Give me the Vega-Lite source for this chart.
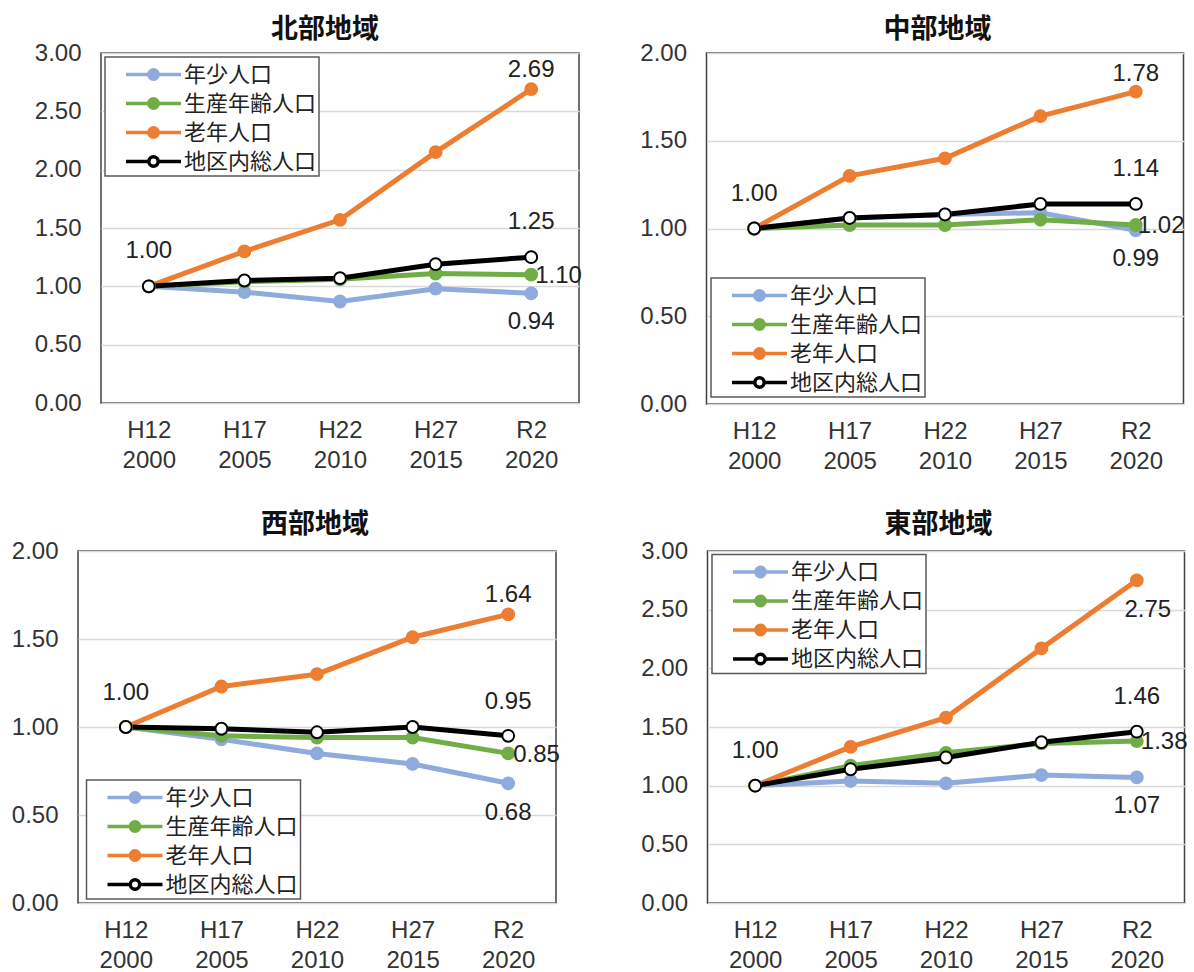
{
"$schema": "https://vega.github.io/schema/vega-lite/v6.json",
"background": "white",
"padding": {"left": 0, "top": 15, "right": 0, "bottom": 0},
"config": {
 "view": {"stroke": "#404040", "strokeWidth": 1.5},
 "axis": {"labelFont": "Liberation Sans", "labelFontSize": 24, "labelColor": "#333", "ticks": false, "domain": false, "title": null, "gridColor": "#d9d9d9", "gridWidth": 1.5},
 "axisX": {"grid": false, "labelAngle": 0, "labelLineHeight": 30, "labelPadding": 15, "labelBaseline": "top"},
 "axisY": {"labelPadding": 20, "format": ".2f"},
 "legend": {"symbolType": "M-2,0H-0.34M0.34,0H2M0.34,0C0.34,0.188,0.188,0.34,0,0.34C-0.188,0.34,-0.34,0.188,-0.34,0C-0.34,-0.188,-0.188,-0.34,0,-0.34C0.188,-0.34,0.34,-0.188,0.34,0Z", "symbolSize": 756, "symbolStrokeWidth": 3.5, "symbolOffset": 31, "padding": 2, "labelOffset": 15, "labelFont": "Noto Sans CJK JP", "labelFontSize": 22, "labelColor": "#222", "rowPadding": 1, "fillColor": "white", "strokeColor": "#595959", "strokeWidth": 1.5},
 "title": {"font": "Noto Sans CJK JP", "fontSize": 27, "fontWeight": "bold", "color": "#111", "anchor": "middle"},
 "text": {"font": "Liberation Sans", "fontSize": 24, "color": "#222", "baseline": "middle"}
},
"datasets": {"d": [
 {"region": "北部", "s": "年少人口", "year": "H12|2000", "v": 1.00},
 {"region": "北部", "s": "年少人口", "year": "H17|2005", "v": 0.95},
 {"region": "北部", "s": "年少人口", "year": "H22|2010", "v": 0.87},
 {"region": "北部", "s": "年少人口", "year": "H27|2015", "v": 0.98},
 {"region": "北部", "s": "年少人口", "year": "R2|2020", "v": 0.94},
 {"region": "北部", "s": "生産年齢人口", "year": "H12|2000", "v": 1.00},
 {"region": "北部", "s": "生産年齢人口", "year": "H17|2005", "v": 1.04},
 {"region": "北部", "s": "生産年齢人口", "year": "H22|2010", "v": 1.06},
 {"region": "北部", "s": "生産年齢人口", "year": "H27|2015", "v": 1.11},
 {"region": "北部", "s": "生産年齢人口", "year": "R2|2020", "v": 1.10},
 {"region": "北部", "s": "老年人口", "year": "H12|2000", "v": 1.00},
 {"region": "北部", "s": "老年人口", "year": "H17|2005", "v": 1.30},
 {"region": "北部", "s": "老年人口", "year": "H22|2010", "v": 1.57},
 {"region": "北部", "s": "老年人口", "year": "H27|2015", "v": 2.15},
 {"region": "北部", "s": "老年人口", "year": "R2|2020", "v": 2.69},
 {"region": "北部", "s": "地区内総人口", "year": "H12|2000", "v": 1.00},
 {"region": "北部", "s": "地区内総人口", "year": "H17|2005", "v": 1.05},
 {"region": "北部", "s": "地区内総人口", "year": "H22|2010", "v": 1.07},
 {"region": "北部", "s": "地区内総人口", "year": "H27|2015", "v": 1.19},
 {"region": "北部", "s": "地区内総人口", "year": "R2|2020", "v": 1.25},
 {"region": "中部", "s": "年少人口", "year": "H12|2000", "v": 1.00},
 {"region": "中部", "s": "年少人口", "year": "H17|2005", "v": 1.06},
 {"region": "中部", "s": "年少人口", "year": "H22|2010", "v": 1.08},
 {"region": "中部", "s": "年少人口", "year": "H27|2015", "v": 1.09},
 {"region": "中部", "s": "年少人口", "year": "R2|2020", "v": 0.99},
 {"region": "中部", "s": "生産年齢人口", "year": "H12|2000", "v": 1.00},
 {"region": "中部", "s": "生産年齢人口", "year": "H17|2005", "v": 1.02},
 {"region": "中部", "s": "生産年齢人口", "year": "H22|2010", "v": 1.02},
 {"region": "中部", "s": "生産年齢人口", "year": "H27|2015", "v": 1.05},
 {"region": "中部", "s": "生産年齢人口", "year": "R2|2020", "v": 1.02},
 {"region": "中部", "s": "老年人口", "year": "H12|2000", "v": 1.00},
 {"region": "中部", "s": "老年人口", "year": "H17|2005", "v": 1.30},
 {"region": "中部", "s": "老年人口", "year": "H22|2010", "v": 1.40},
 {"region": "中部", "s": "老年人口", "year": "H27|2015", "v": 1.64},
 {"region": "中部", "s": "老年人口", "year": "R2|2020", "v": 1.78},
 {"region": "中部", "s": "地区内総人口", "year": "H12|2000", "v": 1.00},
 {"region": "中部", "s": "地区内総人口", "year": "H17|2005", "v": 1.06},
 {"region": "中部", "s": "地区内総人口", "year": "H22|2010", "v": 1.08},
 {"region": "中部", "s": "地区内総人口", "year": "H27|2015", "v": 1.14},
 {"region": "中部", "s": "地区内総人口", "year": "R2|2020", "v": 1.14},
 {"region": "西部", "s": "年少人口", "year": "H12|2000", "v": 1.00},
 {"region": "西部", "s": "年少人口", "year": "H17|2005", "v": 0.93},
 {"region": "西部", "s": "年少人口", "year": "H22|2010", "v": 0.85},
 {"region": "西部", "s": "年少人口", "year": "H27|2015", "v": 0.79},
 {"region": "西部", "s": "年少人口", "year": "R2|2020", "v": 0.68},
 {"region": "西部", "s": "生産年齢人口", "year": "H12|2000", "v": 1.00},
 {"region": "西部", "s": "生産年齢人口", "year": "H17|2005", "v": 0.95},
 {"region": "西部", "s": "生産年齢人口", "year": "H22|2010", "v": 0.94},
 {"region": "西部", "s": "生産年齢人口", "year": "H27|2015", "v": 0.94},
 {"region": "西部", "s": "生産年齢人口", "year": "R2|2020", "v": 0.85},
 {"region": "西部", "s": "老年人口", "year": "H12|2000", "v": 1.00},
 {"region": "西部", "s": "老年人口", "year": "H17|2005", "v": 1.23},
 {"region": "西部", "s": "老年人口", "year": "H22|2010", "v": 1.30},
 {"region": "西部", "s": "老年人口", "year": "H27|2015", "v": 1.51},
 {"region": "西部", "s": "老年人口", "year": "R2|2020", "v": 1.64},
 {"region": "西部", "s": "地区内総人口", "year": "H12|2000", "v": 1.00},
 {"region": "西部", "s": "地区内総人口", "year": "H17|2005", "v": 0.99},
 {"region": "西部", "s": "地区内総人口", "year": "H22|2010", "v": 0.97},
 {"region": "西部", "s": "地区内総人口", "year": "H27|2015", "v": 1.00},
 {"region": "西部", "s": "地区内総人口", "year": "R2|2020", "v": 0.95},
 {"region": "東部", "s": "年少人口", "year": "H12|2000", "v": 1.00},
 {"region": "東部", "s": "年少人口", "year": "H17|2005", "v": 1.04},
 {"region": "東部", "s": "年少人口", "year": "H22|2010", "v": 1.02},
 {"region": "東部", "s": "年少人口", "year": "H27|2015", "v": 1.09},
 {"region": "東部", "s": "年少人口", "year": "R2|2020", "v": 1.07},
 {"region": "東部", "s": "生産年齢人口", "year": "H12|2000", "v": 1.00},
 {"region": "東部", "s": "生産年齢人口", "year": "H17|2005", "v": 1.17},
 {"region": "東部", "s": "生産年齢人口", "year": "H22|2010", "v": 1.28},
 {"region": "東部", "s": "生産年齢人口", "year": "H27|2015", "v": 1.36},
 {"region": "東部", "s": "生産年齢人口", "year": "R2|2020", "v": 1.38},
 {"region": "東部", "s": "老年人口", "year": "H12|2000", "v": 1.00},
 {"region": "東部", "s": "老年人口", "year": "H17|2005", "v": 1.33},
 {"region": "東部", "s": "老年人口", "year": "H22|2010", "v": 1.58},
 {"region": "東部", "s": "老年人口", "year": "H27|2015", "v": 2.17},
 {"region": "東部", "s": "老年人口", "year": "R2|2020", "v": 2.75},
 {"region": "東部", "s": "地区内総人口", "year": "H12|2000", "v": 1.00},
 {"region": "東部", "s": "地区内総人口", "year": "H17|2005", "v": 1.14},
 {"region": "東部", "s": "地区内総人口", "year": "H22|2010", "v": 1.24},
 {"region": "東部", "s": "地区内総人口", "year": "H27|2015", "v": 1.37},
 {"region": "東部", "s": "地区内総人口", "year": "R2|2020", "v": 1.46}
]},
"spacing": 36,
"resolve": {"scale": {"stroke": "independent", "fill": "independent", "x": "independent", "y": "independent"}, "legend": {"stroke": "independent", "fill": "independent"}},
"vconcat": [
 {"spacing": 0,
  "bounds": "flush",
  "resolve": {"scale": {"stroke": "independent", "fill": "independent", "x": "independent", "y": "independent"}, "legend": {"stroke": "independent", "fill": "independent"}},
  "hconcat": [
  {"width": 23, "height": 1, "view": {"stroke": null}, "data": {"values": []}, "mark": "point", "encoding": {}},
  {"spacing": 52.5,
   "resolve": {"scale": {"stroke": "independent", "fill": "independent", "x": "independent", "y": "independent"}, "legend": {"stroke": "independent", "fill": "independent"}},
   "hconcat": [
   {"title": {"text": "北部地域", "dx": -15, "offset": -3},
    "width": 478, "height": 350,
    "data": {"name": "d"},
    "transform": [{"filter": "datum.region === '北部'"}],
    "encoding": {
     "x": {"field": "year", "type": "nominal", "sort": null, "axis": {"labelExpr": "split(datum.label, '|')"}},
     "y": {"field": "v", "type": "quantitative", "scale": {"domain": [0, 3], "nice": false}, "axis": {"values": [0, 0.5, 1, 1.5, 2, 2.5, 3]}}
    },
    "layer": [
     {"mark": {"type": "line", "strokeWidth": 5}, "encoding": {"stroke": {"field": "s", "type": "nominal", "sort": null, "scale": {"domain": ["年少人口", "生産年齢人口", "老年人口", "地区内総人口"], "range": ["#8FAADC", "#70AD47", "#ED7D31", "#000000"]}, "legend": {"title": null, "orient": "none", "legendX": 4, "legendY": 4}}}},
     {"mark": {"type": "point", "shape": "circle", "filled": true, "size": 140, "strokeWidth": 2, "opacity": 1}, "encoding": {
       "fill": {"field": "s", "type": "nominal", "sort": null, "scale": {"domain": ["年少人口", "生産年齢人口", "老年人口", "地区内総人口"], "range": ["#8FAADC", "#70AD47", "#ED7D31", "#FFFFFF"]}, "legend": {"title": null, "orient": "none", "legendX": 4, "legendY": 4}},
       "stroke": {"field": "s", "type": "nominal", "sort": null, "scale": {"domain": ["年少人口", "生産年齢人口", "老年人口", "地区内総人口"], "range": ["#8FAADC", "#70AD47", "#ED7D31", "#000000"]}, "legend": {"title": null, "orient": "none", "legendX": 4, "legendY": 4}}}},
     {"transform": [{"filter": "datum.s === '地区内総人口' && (datum.year === 'H12|2000' || datum.year === 'R2|2020')"}], "mark": {"type": "text", "dy": -35}, "encoding": {"text": {"field": "v", "type": "quantitative", "format": ".2f"}}},
     {"transform": [{"filter": "datum.s === '老年人口' && datum.year === 'R2|2020'"}], "mark": {"type": "text", "dy": -19}, "encoding": {"text": {"field": "v", "type": "quantitative", "format": ".2f"}}},
     {"transform": [{"filter": "datum.s === '生産年齢人口' && datum.year === 'R2|2020'"}], "mark": {"type": "text", "align": "left", "dx": 4, "dy": 1}, "encoding": {"text": {"field": "v", "type": "quantitative", "format": ".2f"}}},
     {"transform": [{"filter": "datum.s === '年少人口' && datum.year === 'R2|2020'"}], "mark": {"type": "text", "dy": 29}, "encoding": {"text": {"field": "v", "type": "quantitative", "format": ".2f"}}}
    ]},
   {"title": {"text": "中部地域", "dx": -7.5, "offset": -3},
    "width": 477, "height": 351,
    "data": {"name": "d"},
    "transform": [{"filter": "datum.region === '中部'"}],
    "encoding": {
     "x": {"field": "year", "type": "nominal", "sort": null, "axis": {"labelExpr": "split(datum.label, '|')"}},
     "y": {"field": "v", "type": "quantitative", "scale": {"domain": [0, 2], "nice": false}, "axis": {"values": [0, 0.5, 1, 1.5, 2], "minExtent": 70, "maxExtent": 70}}
    },
    "layer": [
     {"mark": {"type": "line", "strokeWidth": 5}, "encoding": {"stroke": {"field": "s", "type": "nominal", "sort": null, "scale": {"domain": ["年少人口", "生産年齢人口", "老年人口", "地区内総人口"], "range": ["#8FAADC", "#70AD47", "#ED7D31", "#000000"]}, "legend": {"title": null, "orient": "none", "legendX": 4.5, "legendY": 225}}}},
     {"mark": {"type": "point", "shape": "circle", "filled": true, "size": 140, "strokeWidth": 2, "opacity": 1}, "encoding": {
       "fill": {"field": "s", "type": "nominal", "sort": null, "scale": {"domain": ["年少人口", "生産年齢人口", "老年人口", "地区内総人口"], "range": ["#8FAADC", "#70AD47", "#ED7D31", "#FFFFFF"]}, "legend": {"title": null, "orient": "none", "legendX": 4.5, "legendY": 225}},
       "stroke": {"field": "s", "type": "nominal", "sort": null, "scale": {"domain": ["年少人口", "生産年齢人口", "老年人口", "地区内総人口"], "range": ["#8FAADC", "#70AD47", "#ED7D31", "#000000"]}, "legend": {"title": null, "orient": "none", "legendX": 4.5, "legendY": 225}}}},
     {"transform": [{"filter": "datum.s === '地区内総人口' && (datum.year === 'H12|2000' || datum.year === 'R2|2020')"}], "mark": {"type": "text", "dy": -35}, "encoding": {"text": {"field": "v", "type": "quantitative", "format": ".2f"}}},
     {"transform": [{"filter": "datum.s === '老年人口' && datum.year === 'R2|2020'"}], "mark": {"type": "text", "dy": -18}, "encoding": {"text": {"field": "v", "type": "quantitative", "format": ".2f"}}},
     {"transform": [{"filter": "datum.s === '生産年齢人口' && datum.year === 'R2|2020'"}], "mark": {"type": "text", "align": "left", "dx": 2, "dy": 1}, "encoding": {"text": {"field": "v", "type": "quantitative", "format": ".2f"}}},
     {"transform": [{"filter": "datum.s === '年少人口' && datum.year === 'R2|2020'"}], "mark": {"type": "text", "dy": 29}, "encoding": {"text": {"field": "v", "type": "quantitative", "format": ".2f"}}}
    ]}
  ]}
 ]},
 {"spacing": 75.5,
  "resolve": {"scale": {"stroke": "independent", "fill": "independent", "x": "independent", "y": "independent"}, "legend": {"stroke": "independent", "fill": "independent"}},
  "hconcat": [
  {"title": {"text": "西部地域", "dx": -2, "offset": 0},
   "width": 478, "height": 352,
   "data": {"name": "d"},
   "transform": [{"filter": "datum.region === '西部'"}],
   "encoding": {
    "x": {"field": "year", "type": "nominal", "sort": null, "axis": {"labelExpr": "split(datum.label, '|')"}},
    "y": {"field": "v", "type": "quantitative", "scale": {"domain": [0, 2], "nice": false}, "axis": {"values": [0, 0.5, 1, 1.5, 2], "minExtent": 76.5, "maxExtent": 76.5}}
   },
   "layer": [
    {"mark": {"type": "line", "strokeWidth": 5}, "encoding": {"stroke": {"field": "s", "type": "nominal", "sort": null, "scale": {"domain": ["年少人口", "生産年齢人口", "老年人口", "地区内総人口"], "range": ["#8FAADC", "#70AD47", "#ED7D31", "#000000"]}, "legend": {"title": null, "orient": "none", "legendX": 8.5, "legendY": 229}}}},
    {"mark": {"type": "point", "shape": "circle", "filled": true, "size": 140, "strokeWidth": 2, "opacity": 1}, "encoding": {
      "fill": {"field": "s", "type": "nominal", "sort": null, "scale": {"domain": ["年少人口", "生産年齢人口", "老年人口", "地区内総人口"], "range": ["#8FAADC", "#70AD47", "#ED7D31", "#FFFFFF"]}, "legend": {"title": null, "orient": "none", "legendX": 8.5, "legendY": 229}},
      "stroke": {"field": "s", "type": "nominal", "sort": null, "scale": {"domain": ["年少人口", "生産年齢人口", "老年人口", "地区内総人口"], "range": ["#8FAADC", "#70AD47", "#ED7D31", "#000000"]}, "legend": {"title": null, "orient": "none", "legendX": 8.5, "legendY": 229}}}},
    {"transform": [{"filter": "datum.s === '地区内総人口' && (datum.year === 'H12|2000' || datum.year === 'R2|2020')"}], "mark": {"type": "text", "dy": -34}, "encoding": {"text": {"field": "v", "type": "quantitative", "format": ".2f"}}},
    {"transform": [{"filter": "datum.s === '老年人口' && datum.year === 'R2|2020'"}], "mark": {"type": "text", "dy": -19}, "encoding": {"text": {"field": "v", "type": "quantitative", "format": ".2f"}}},
    {"transform": [{"filter": "datum.s === '生産年齢人口' && datum.year === 'R2|2020'"}], "mark": {"type": "text", "align": "left", "dx": 5, "dy": 2}, "encoding": {"text": {"field": "v", "type": "quantitative", "format": ".2f"}}},
    {"transform": [{"filter": "datum.s === '年少人口' && datum.year === 'R2|2020'"}], "mark": {"type": "text", "dy": 30}, "encoding": {"text": {"field": "v", "type": "quantitative", "format": ".2f"}}}
   ]},
  {"title": {"text": "東部地域", "dx": -7.5, "offset": 0},
   "width": 477, "height": 352,
   "data": {"name": "d"},
   "transform": [{"filter": "datum.region === '東部'"}],
   "encoding": {
    "x": {"field": "year", "type": "nominal", "sort": null, "axis": {"labelExpr": "split(datum.label, '|')"}},
    "y": {"field": "v", "type": "quantitative", "scale": {"domain": [0, 3], "nice": false}, "axis": {"values": [0, 0.5, 1, 1.5, 2, 2.5, 3], "minExtent": 70, "maxExtent": 70}}
   },
   "layer": [
    {"mark": {"type": "line", "strokeWidth": 5}, "encoding": {"stroke": {"field": "s", "type": "nominal", "sort": null, "scale": {"domain": ["年少人口", "生産年齢人口", "老年人口", "地区内総人口"], "range": ["#8FAADC", "#70AD47", "#ED7D31", "#000000"]}, "legend": {"title": null, "orient": "none", "legendX": 4.5, "legendY": 3.5}}}},
    {"mark": {"type": "point", "shape": "circle", "filled": true, "size": 140, "strokeWidth": 2, "opacity": 1}, "encoding": {
      "fill": {"field": "s", "type": "nominal", "sort": null, "scale": {"domain": ["年少人口", "生産年齢人口", "老年人口", "地区内総人口"], "range": ["#8FAADC", "#70AD47", "#ED7D31", "#FFFFFF"]}, "legend": {"title": null, "orient": "none", "legendX": 4.5, "legendY": 3.5}},
      "stroke": {"field": "s", "type": "nominal", "sort": null, "scale": {"domain": ["年少人口", "生産年齢人口", "老年人口", "地区内総人口"], "range": ["#8FAADC", "#70AD47", "#ED7D31", "#000000"]}, "legend": {"title": null, "orient": "none", "legendX": 4.5, "legendY": 3.5}}}},
    {"transform": [{"filter": "datum.s === '地区内総人口' && (datum.year === 'H12|2000' || datum.year === 'R2|2020')"}], "mark": {"type": "text", "dy": -35}, "encoding": {"text": {"field": "v", "type": "quantitative", "format": ".2f"}}},
    {"transform": [{"filter": "datum.s === '老年人口' && datum.year === 'R2|2020'"}], "mark": {"type": "text", "dx": 11, "dy": 30}, "encoding": {"text": {"field": "v", "type": "quantitative", "format": ".2f"}}},
    {"transform": [{"filter": "datum.s === '生産年齢人口' && datum.year === 'R2|2020'"}], "mark": {"type": "text", "align": "left", "dx": 4, "dy": 1}, "encoding": {"text": {"field": "v", "type": "quantitative", "format": ".2f"}}},
    {"transform": [{"filter": "datum.s === '年少人口' && datum.year === 'R2|2020'"}], "mark": {"type": "text", "dy": 29}, "encoding": {"text": {"field": "v", "type": "quantitative", "format": ".2f"}}}
   ]}
 ]}
]
}
